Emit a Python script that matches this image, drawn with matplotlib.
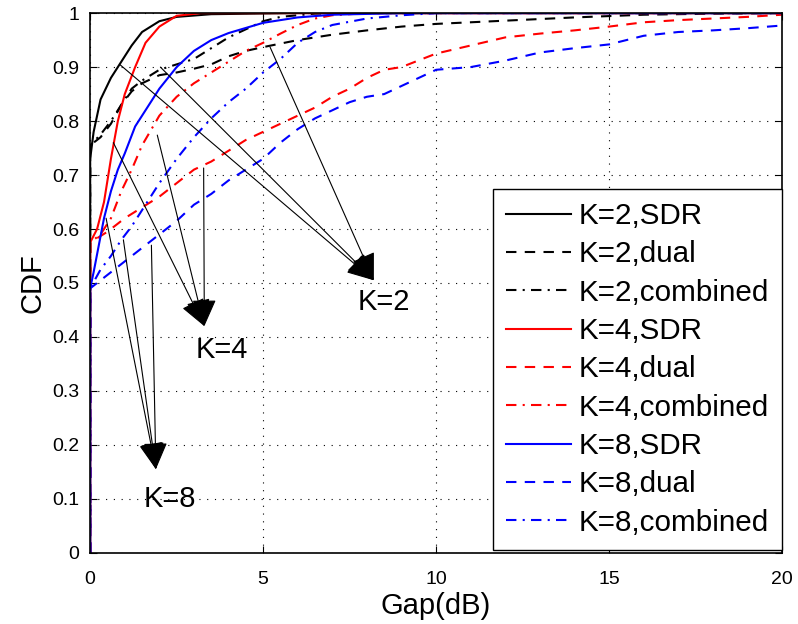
import matplotlib.pyplot as plt

plt.rcParams['font.family'] = ['Liberation Sans', 'DejaVu Sans']

# CDF curves (x = gap in dB, y = CDF)
k2_sdr_x = [0, 0, 0.1, 0.3, 0.6, 0.9, 1.2, 1.5, 2.0, 2.5, 3.5, 6, 20]
k2_sdr_y = [0, 0.73, 0.78, 0.84, 0.88, 0.91, 0.94, 0.965, 0.985, 0.993, 0.998, 1.0, 1.0]

k2_dual_x = [0, 0, 0.3, 0.6, 0.9, 1.2, 1.5, 2.0, 2.5, 3.0, 3.5, 4.0, 4.5, 5.0, 6.0, 7.0, 8.0, 9.0, 10, 12, 14, 16, 18, 20]
k2_dual_y = [0, 0.755, 0.77, 0.795, 0.83, 0.855, 0.87, 0.885, 0.89, 0.897, 0.905, 0.92, 0.93, 0.937, 0.95, 0.96, 0.968, 0.975, 0.98, 0.986, 0.992, 0.997, 0.999, 1.0]

k2_comb_x = [0, 0, 0.3, 0.6, 0.9, 1.2, 1.5, 2.0, 2.5, 3.0, 3.5, 4.0, 4.5, 5.0, 5.5, 6.5, 8, 20]
k2_comb_y = [0, 0.755, 0.775, 0.8, 0.83, 0.86, 0.875, 0.895, 0.905, 0.915, 0.935, 0.955, 0.97, 0.985, 0.993, 0.999, 1.0, 1.0]

k4_sdr_x = [0, 0, 0.2, 0.4, 0.6, 0.8, 1.0, 1.3, 1.6, 2.0, 2.5, 3.2, 20]
k4_sdr_y = [0, 0.575, 0.6, 0.65, 0.73, 0.8, 0.85, 0.9, 0.945, 0.975, 0.995, 1.0, 1.0]

k4_dual_x = [0, 0, 0.5, 1.0, 1.5, 2.0, 2.5, 3.0, 3.5, 4.0, 4.5, 5.0, 5.5, 6.0, 6.5, 7.0, 7.5, 8.0, 8.5, 9.0,
             10, 11, 12, 13, 14, 15, 16, 17, 18, 19, 20]
k4_dual_y = [0, 0.575, 0.595, 0.62, 0.64, 0.66, 0.685, 0.71, 0.725, 0.745, 0.765, 0.78, 0.795, 0.81, 0.825, 0.845,
             0.86, 0.88, 0.895, 0.9, 0.925, 0.94, 0.955, 0.962, 0.968, 0.975, 0.983, 0.987, 0.99, 0.993, 0.997]

k4_comb_x = [0, 0, 0.3, 0.6, 0.9, 1.2, 1.5, 2.0, 2.5, 3.0, 3.5, 4.0, 4.5, 5.0, 5.5, 6.0, 6.5, 7.0, 8.0, 20]
k4_comb_y = [0, 0.575, 0.59, 0.62, 0.67, 0.71, 0.755, 0.81, 0.845, 0.87, 0.89, 0.91, 0.93, 0.945, 0.962, 0.978,
             0.99, 0.996, 1.0, 1.0]

k8_sdr_x = [0, 0, 0.1, 0.25, 0.4, 0.6, 0.8, 1.0, 1.3, 1.6, 2.0, 2.5, 3.0, 3.5, 4.0, 5, 6, 7, 9, 20]
k8_sdr_y = [0, 0.49, 0.52, 0.57, 0.62, 0.67, 0.71, 0.74, 0.79, 0.82, 0.86, 0.9, 0.93, 0.95, 0.963, 0.982, 0.992,
            0.997, 1.0, 1.0]

k8_dual_x = [0, 0, 0.5, 1.0, 1.5, 2.0, 2.5, 3.0, 3.5, 4.0, 4.5, 5.0, 5.5, 6.0, 6.5, 7.0, 7.5, 8.0, 8.5, 9.0, 9.5,
             10, 11, 12, 13, 14, 15, 16, 17, 18, 19, 20]
k8_dual_y = [0, 0.49, 0.515, 0.54, 0.565, 0.59, 0.615, 0.645, 0.665, 0.69, 0.71, 0.73, 0.76, 0.785, 0.805, 0.82,
             0.835, 0.845, 0.85, 0.865, 0.88, 0.895, 0.9, 0.912, 0.927, 0.935, 0.942, 0.958, 0.965, 0.968, 0.972, 0.977]

k8_comb_x = [0, 0, 0.3, 0.6, 0.9, 1.2, 1.5, 2.0, 2.5, 3.0, 3.5, 4.0, 4.5, 5.0, 5.5, 6.0, 6.5, 7.0, 8.0, 9.0, 10, 20]
k8_comb_y = [0, 0.49, 0.525, 0.55, 0.58, 0.605, 0.635, 0.685, 0.73, 0.77, 0.805, 0.835, 0.86, 0.89, 0.915, 0.945,
             0.965, 0.978, 0.99, 0.996, 1.0, 1.0]

labels = ['K=2,SDR', 'K=2,dual', 'K=2,combined',
          'K=4,SDR', 'K=4,dual', 'K=4,combined',
          'K=8,SDR', 'K=8,dual', 'K=8,combined']

# annotation arrows: (start points, tip, label, label position)
k2_starts = [(0.87, 0.904), (2.03, 0.90), (5.2, 0.937)]
k2_tip = (8.2, 0.505)
k2_text = (8.5, 0.465)
k4_starts = [(0.67, 0.76), (1.94, 0.774), (3.28, 0.713)]
k4_tip = (3.3, 0.42)
k4_text = (3.8, 0.375)
k8_starts = [(0.46, 0.62), (0.96, 0.58), (1.77, 0.57)]
k8_tip = (1.9, 0.155)
k8_text = (2.3, 0.10)

fig = plt.figure(figsize=(7.98, 6.24), dpi=100)
ax = fig.add_axes([0.113, 0.114, 0.867, 0.865])

dash = (0, (5, 4))
dashdot = (0, (5, 3, 1, 3))
series = [
    (k2_sdr_x, k2_sdr_y, 'k', '-'),
    (k2_dual_x, k2_dual_y, 'k', dash),
    (k2_comb_x, k2_comb_y, 'k', dashdot),
    (k4_sdr_x, k4_sdr_y, 'r', '-'),
    (k4_dual_x, k4_dual_y, 'r', dash),
    (k4_comb_x, k4_comb_y, 'r', dashdot),
    (k8_sdr_x, k8_sdr_y, 'b', '-'),
    (k8_dual_x, k8_dual_y, 'b', dash),
    (k8_comb_x, k8_comb_y, 'b', dashdot),
]
for (x, y, c, ls), lab in zip(series, labels):
    ax.plot(x, y, color=c, linestyle=ls, lw=1.5, label=lab)

arrow_props = dict(arrowstyle='-|>,head_length=0.85,head_width=0.38', mutation_scale=20,
                   lw=0.8, color='k', shrinkA=0, shrinkB=0)
for starts, tip, txt, pos in [(k2_starts, k2_tip, 'K=2', k2_text),
                              (k4_starts, k4_tip, 'K=4', k4_text),
                              (k8_starts, k8_tip, 'K=8', k8_text)]:
    for s in starts:
        ax.annotate('', xy=tip, xytext=s, arrowprops=arrow_props)
    ax.text(pos[0], pos[1], txt, fontsize=21, ha='center', va='center')

ax.set_xlim(0, 20)
ax.set_ylim(0, 1)
ax.set_xticks([0, 5, 10, 15, 20])
ax.set_yticks([i / 10 for i in range(11)])
ax.set_yticklabels(['0', '0.1', '0.2', '0.3', '0.4', '0.5', '0.6', '0.7', '0.8', '0.9', '1'])
ax.tick_params(direction='in', top=True, right=True, labelsize=14, length=5)
ax.tick_params(axis='x', pad=13)
ax.tick_params(axis='y', pad=8)
ax.grid(True, color='k', linestyle=(0, (1, 6)), lw=0.8)
for sp in ax.spines.values():
    sp.set_linewidth(1.2)

ax.set_xlabel('Gap(dB)', fontsize=21, labelpad=3)
ax.set_ylabel('CDF', fontsize=21, labelpad=4)

leg = ax.legend(loc='lower right', bbox_to_anchor=(1.0, 0.005), borderaxespad=0,
                fontsize=21.3, handlelength=2.2, handletextpad=0.25, labelspacing=0.35,
                borderpad=0.45, fancybox=False, framealpha=1, edgecolor='k')
leg.get_frame().set_linewidth(1.0)

fig.savefig('out.png', dpi=100)
